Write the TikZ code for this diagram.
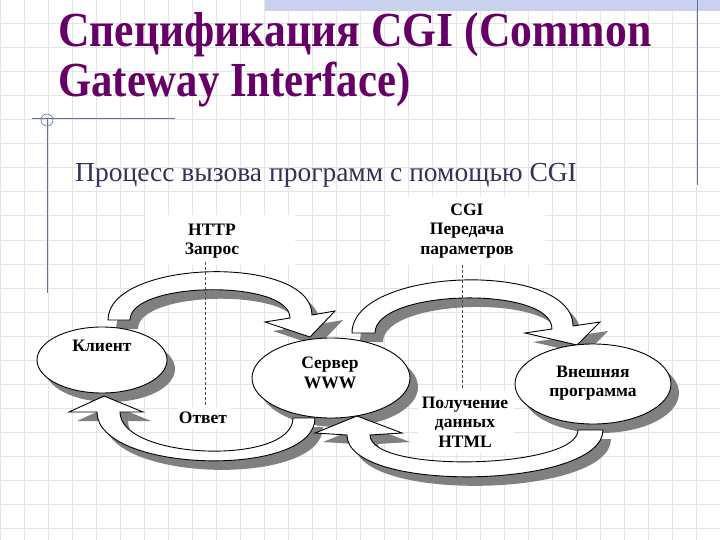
\documentclass[tikz,border=0pt]{standalone}
\usepackage{fontspec}
\setmainfont{Liberation Serif}
\usetikzlibrary{shapes.geometric,calc}
\definecolor{titlec}{RGB}{102,0,102}
\definecolor{subc}{RGB}{51,51,90}
\definecolor{gridc}{RGB}{228,228,228}
\definecolor{linec}{RGB}{100,112,160}
\definecolor{bandc}{RGB}{200,210,238}
\definecolor{shadowc}{RGB}{128,128,128}
\begin{document}
\begin{tikzpicture}[x=1pt,y=1pt,
  ell/.style={ellipse,draw=black,fill=white,line width=0.9pt,inner sep=0pt},
  band/.style={draw=black,fill=white,line width=0.9pt,line join=miter},
  shad/.style={fill=shadowc},
  lbl/.style={font=\fontsize{17.5}{19.5}\selectfont\bfseries,align=center,inner sep=0pt},
  guide/.style={draw=black!70,line width=0.5pt,dash pattern=on 3pt off 2pt},
  tlpath/.style={insert path={(108,-320) .. controls (108,-259) and (312,-254) .. (312,-315) -- (335,-311) -- (310,-337) -- (265,-322) -- (290,-318) .. controls (290,-279) and (130,-281) .. (130,-320) -- cycle}},
  trpath/.style={insert path={(352,-333) .. controls (352,-267) and (573,-260) .. (573,-326) -- (600,-322) -- (577,-345) -- (525,-333) -- (552,-329) .. controls (552,-285) and (375,-289) .. (375,-333) -- cycle}},
  llpath/.style={insert path={(315,-418) .. controls (315,-479) and (97,-473) .. (97,-412) -- (69,-412) -- (104,-396) -- (143,-412) -- (120,-412) .. controls (120,-460) and (293,-466) .. (293,-418) -- cycle}},
  lrpath/.style={insert path={(603,-430) .. controls (603,-489) and (347,-494) .. (347,-435) -- (315,-433) -- (357,-416) -- (402,-433) -- (370,-435) .. controls (370,-474) and (578,-469) .. (578,-430) -- cycle}}
]
\useasboundingbox (0,0) rectangle (720,-540);
\fill[white] (0,0) rectangle (720,-540);
% grid
\foreach \i in {0,...,30} \draw[gridc,line width=1pt] (24*\i,0) -- (24*\i,-540);
\foreach \j in {0,...,22} \draw[gridc,line width=1pt] (0,-24*\j) -- (720,-24*\j);
% top band and guide lines
\fill[bandc] (265,0) rectangle (720,-11);
\draw[linec,line width=1pt] (697,0) -- (697,-185);
\draw[linec,line width=1pt] (32,-119) -- (175,-119);
\draw[linec,line width=1pt] (47,-119) -- (47,-293);
\draw[linec,line width=0.6pt] (47,-120) circle (6);
% title
\node[anchor=base west,inner sep=0pt,text=titlec,font=\fontsize{48}{50}\selectfont\bfseries] (title1) at (58,-47) {\scalebox{0.91}[1.02]{Спецификация CGI (Common}};
\node[anchor=base west,inner sep=0pt,text=titlec,font=\fontsize{48}{50}\selectfont\bfseries] (title2) at (58,-97) {\scalebox{0.89}[1.02]{Gateway Interface)}};
\node[anchor=base west,inner sep=0pt,text=subc,font=\fontsize{27.5}{30}\selectfont] (sub) at (75,-182) {Процесс вызова программ с помощью CGI};
% white label backgrounds
\fill[white] (145,-215) rectangle (295,-265);
\fill[white] (390,-197) rectangle (545,-265);
\fill[white] (178,-407) rectangle (230,-429);
\fill[white] (418,-391) rectangle (514,-453);
% shadows
\fill[shad,shift={(8,-9)},tlpath];
\fill[shad,shift={(8,-9)},trpath];
\fill[shad,shift={(8,-9)},llpath];
\fill[shad,shift={(8,-9)},lrpath];
\fill[shad] (110,-369) ellipse [x radius=65, y radius=33];
\fill[shad] (339,-387) ellipse [x radius=79, y radius=40];
\fill[shad] (601,-393) ellipse [x radius=78, y radius=40];
% block arrows
\path[band,tlpath];
\path[band,trpath];
\path[band,llpath];
\path[band,lrpath];
% ellipses
\node[ell,minimum width=130pt,minimum height=66pt] (client) at (102,-360) {};
\node[ell,minimum width=158pt,minimum height=80pt] (server) at (331,-378) {};
\node[ell,minimum width=156pt,minimum height=80pt] (ext) at (593,-384) {};
% labels
\node[lbl] (httplbl) at (212,-241) {HTTP\\Запрос};
\node[lbl] (cgilbl) at (467,-231) {CGI\\Передача\\параметров};
\node[lbl] (clientlbl) at (102,-346) {Клиент};
\node[lbl] (serverlbl) at (330,-373) {Сервер\\WWW};
\node[lbl] (extlbl) at (593,-383) {Внешняя\\программа};
\node[lbl] (otvet) at (203,-418) {Ответ};
\node[lbl] (htmllbl) at (465,-422) {Получение\\данных\\HTML};
% dashed guides
\coordinate (d1a) at (205,-262);
\coordinate (d1b) at (205,-407);
\coordinate (d2a) at (462,-265);
\coordinate (d2b) at (462,-388);
\draw[guide] (d1a) -- (d1b);
\draw[guide] (d2a) -- (d2b);
\end{tikzpicture}
\end{document}
